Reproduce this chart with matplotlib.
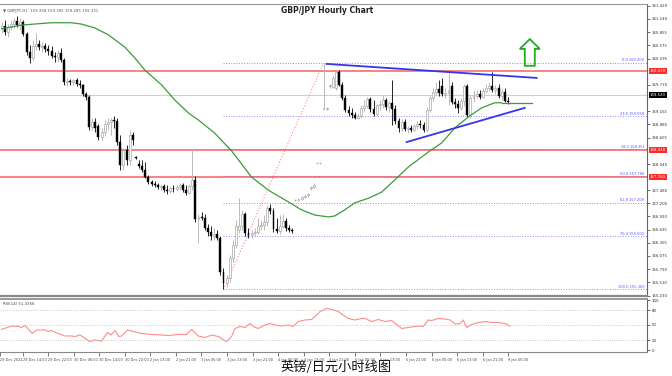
import numpy as np
import matplotlib
matplotlib.use("Agg")
import matplotlib.pyplot as plt
from matplotlib.patches import Polygon

# ---- hourly candles (GBP/JPY) ----
opens = [160.95, 160.99, 160.86, 160.97, 161.03, 161.10, 161.01, 161.08, 160.82, 160.44,
         160.31, 160.56, 160.61, 160.54, 160.56, 160.50, 160.46, 160.35, 160.33, 160.41,
         160.26, 159.79, 159.82, 159.79, 159.84, 159.75, 159.73, 159.54, 159.47, 158.83,
         158.94, 158.85, 158.62, 158.72, 158.90, 158.94, 158.98, 158.96, 158.51, 158.02,
         158.34, 158.13, 158.66, 158.19, 158.04, 158.00, 157.91, 157.76, 157.66, 157.61,
         157.59, 157.55, 157.57, 157.48, 157.46, 157.53, 157.51, 157.55, 157.59, 157.48,
         157.42, 157.57, 157.70, 156.86, 156.91, 156.89, 156.67, 156.59, 156.50, 156.54,
         156.46, 155.73, 155.50, 155.60, 156.03, 156.31, 156.63, 156.72, 156.97, 156.56,
         156.52, 156.56, 156.59, 156.72, 156.74, 156.80, 157.10, 157.04, 156.65, 156.61,
         156.72, 156.82, 156.67, 156.63, 157.27, 157.27, 157.29, 157.33, 157.38, 157.53,
         157.55, 158.06, 158.06, 159.22, 159.22, 159.71, 159.69, 159.67, 160.01, 159.73,
         159.45, 159.20, 159.13, 159.09, 159.02, 159.07, 159.24, 159.28, 159.43, 159.22,
         159.11, 159.30, 159.32, 159.41, 159.26, 159.35, 159.22, 158.96, 158.81, 158.94,
         158.79, 158.81, 158.77, 158.85, 158.90, 158.87, 158.77, 159.20, 159.45, 159.58,
         159.64, 159.71, 159.54, 159.56, 159.71, 159.37, 159.32, 159.24, 159.39, 159.71,
         159.09, 159.45, 159.50, 159.54, 159.47, 159.60, 159.67, 159.71, 159.62, 159.67,
         159.50, 159.58, 159.39]
highs = [161.08, 161.12, 161.03, 161.12, 161.16, 161.21, 161.16, 161.12, 160.86, 160.59,
         160.69, 160.84, 160.69, 160.65, 160.63, 160.59, 160.56, 160.44, 160.48, 160.52,
         160.31, 159.88, 159.86, 159.86, 159.88, 159.84, 159.75, 159.58, 159.52, 159.02,
         159.02, 158.90, 158.81, 158.98, 159.02, 159.02, 159.07, 159.02, 158.66, 158.38,
         158.45, 158.77, 158.72, 158.21, 158.13, 158.13, 158.08, 157.81, 157.70, 157.68,
         157.63, 157.61, 157.61, 157.59, 157.57, 157.59, 157.61, 157.63, 157.63, 157.59,
         157.61, 158.36, 157.78, 156.97, 157.01, 156.97, 156.76, 156.72, 156.67, 156.63,
         156.50, 155.82, 155.67, 156.09, 156.42, 156.84, 157.31, 157.06, 157.01, 156.67,
         156.63, 156.67, 156.89, 156.84, 156.95, 157.16, 157.19, 157.10, 156.89, 156.95,
         156.97, 156.89, 156.74, 156.67, 157.29, 157.31, 157.36, 157.40, 157.42, 157.57,
         157.63, 158.08, 158.08, 160.20, 159.26, 159.75, 159.92, 160.05, 160.05, 159.79,
         159.52, 159.28, 159.24, 159.15, 159.13, 159.30, 159.41, 159.47, 159.47, 159.41,
         159.32, 159.41, 159.52, 159.45, 159.39, 159.84, 159.30, 159.02, 159.00, 159.00,
         158.85, 158.87, 158.90, 158.96, 158.98, 158.94, 159.26, 159.50, 159.67, 159.79,
         159.84, 159.88, 159.67, 159.99, 159.79, 159.45, 159.41, 159.45, 159.75, 159.75,
         159.52, 159.62, 159.62, 159.62, 159.67, 159.75, 159.79, 160.01, 159.73, 159.75,
         159.67, 159.67, 159.47]
lows = [160.84, 160.80, 160.76, 160.91, 160.95, 160.97, 160.91, 160.78, 160.37, 160.20,
        160.26, 160.48, 160.48, 160.44, 160.44, 160.37, 160.31, 160.22, 160.22, 160.22,
        159.73, 159.71, 159.73, 159.73, 159.71, 159.67, 159.50, 159.41, 158.77, 158.77,
        158.72, 158.55, 158.55, 158.64, 158.77, 158.66, 158.81, 158.45, 157.91, 157.91,
        158.02, 158.02, 158.45, 158.15, 157.95, 157.87, 157.74, 157.61, 157.57, 157.55,
        157.51, 157.48, 157.44, 157.40, 157.42, 157.44, 157.46, 157.48, 157.44, 157.38,
        157.40, 157.48, 156.80, 156.35, 156.84, 156.63, 156.50, 156.42, 156.42, 156.42,
        155.67, 155.36, 155.41, 155.52, 155.94, 156.24, 156.56, 156.63, 156.50, 156.46,
        156.46, 156.50, 156.54, 156.63, 156.63, 156.72, 156.97, 156.59, 156.56, 156.54,
        156.67, 156.61, 156.59, 156.56, 157.25, 157.25, 157.27, 157.31, 157.33, 157.48,
        157.53, 158.04, 158.04, 159.20, 159.20, 159.67, 159.67, 159.62, 159.71, 159.41,
        159.15, 159.07, 159.02, 159.00, 159.00, 159.02, 159.15, 159.24, 159.15, 159.07,
        159.07, 159.20, 159.24, 159.20, 159.15, 158.87, 158.90, 158.72, 158.75, 158.75,
        158.70, 158.72, 158.75, 158.79, 158.81, 158.72, 158.72, 159.15, 159.39, 159.52,
        159.50, 159.50, 159.45, 159.30, 159.32, 159.24, 159.13, 159.20, 159.28, 159.05,
        159.02, 159.37, 159.45, 159.43, 159.45, 159.56, 159.60, 159.58, 159.54, 159.45,
        159.41, 159.37, 159.32]
closes = [160.99, 160.86, 160.97, 161.03, 161.10, 161.01, 161.08, 160.82, 160.44, 160.31,
          160.56, 160.61, 160.54, 160.56, 160.50, 160.46, 160.35, 160.33, 160.41, 160.26,
          159.79, 159.82, 159.79, 159.84, 159.75, 159.73, 159.54, 159.47, 158.83, 158.94,
          158.81, 158.62, 158.72, 158.90, 158.94, 158.98, 158.96, 158.51, 158.02, 158.34,
          158.13, 158.66, 158.55, 158.17, 158.00, 157.91, 157.76, 157.66, 157.61, 157.59,
          157.55, 157.57, 157.48, 157.46, 157.53, 157.51, 157.55, 157.59, 157.48, 157.42,
          157.57, 157.70, 156.86, 156.91, 156.89, 156.67, 156.59, 156.50, 156.54, 156.46,
          155.73, 155.50, 155.60, 156.03, 156.31, 156.72, 156.72, 156.97, 156.56, 156.52,
          156.56, 156.59, 156.72, 156.74, 156.80, 157.10, 157.04, 156.65, 156.61, 156.72,
          156.82, 156.67, 156.63, 156.61, 157.27, 157.29, 157.33, 157.36, 157.40, 157.55,
          157.59, 158.06, 158.06, 159.22, 159.24, 159.71, 159.88, 160.01, 159.73, 159.45,
          159.20, 159.13, 159.09, 159.02, 159.07, 159.24, 159.28, 159.43, 159.22, 159.11,
          159.30, 159.32, 159.41, 159.26, 159.35, 159.22, 158.96, 158.81, 158.94, 158.79,
          158.81, 158.77, 158.85, 158.90, 158.87, 158.77, 159.20, 159.45, 159.58, 159.64,
          159.56, 159.54, 159.56, 159.62, 159.37, 159.32, 159.24, 159.39, 159.71, 159.09,
          159.45, 159.50, 159.54, 159.47, 159.60, 159.67, 159.71, 159.62, 159.67, 159.50,
          159.58, 159.39, 159.37]

# moving average (green), sampled points: bar index / price
ma_bars = [0, 6.4, 16, 22.4, 25.6, 29.8, 34.2, 39.4, 42.6, 45.8, 51.2, 55.4, 59.8, 63,
           68.2, 73.6, 80, 85.4, 91.8, 96, 100.2, 104.6, 106.6, 109.8, 113, 117.4, 121.6,
           125.8, 130.2, 136.6, 140.8, 145, 149.4, 153.6, 157.8, 160]
ma_vals = [160.93, 161.01, 161.06, 161.06, 161.03, 160.95, 160.80, 160.54, 160.31, 160.05,
           159.73, 159.41, 159.13, 158.98, 158.70, 158.32, 157.76, 157.48, 157.23, 157.06,
           156.95, 156.91, 156.93, 157.06, 157.21, 157.31, 157.44, 157.70, 157.98, 158.30,
           158.49, 158.81, 159.05, 159.24, 159.35, 159.35]
ma_flat_end = 169.6

# RSI(14) sub panel
rsi_bars = [0, 3.2, 5.3, 6.4, 7.5, 9.8, 11.2, 13.9, 14.9, 16, 18.1, 20.3, 22.4, 23.5, 25.1,
            26.7, 28.3, 29.9, 32, 33.9, 35, 36.3, 37.5, 38.4, 40.3, 42.1, 44.8, 48, 51.2,
            53.3, 56.5, 59.2, 60.8, 62.9, 65.1, 67.2, 69.3, 71.3, 72, 73.6, 74.7, 76.3, 77.9,
            79.5, 80.5, 82.1, 84.3, 85.9, 87.5, 89.6, 91.7, 93.3, 94.9, 97.1, 99.2, 100.3,
            101.9, 104, 105.6, 107.7, 110.9, 113.1, 115.2, 116.3, 118.4, 120.5, 122.7, 124.8,
            128, 130.1, 133.3, 134.9, 136.5, 137.6, 139.7, 141.9, 143.5, 145.1, 146.7, 147.7,
            148.8, 150.4, 152.5, 154.7, 156.8, 158.9, 161.1, 162.7]
rsi_vals = [41, 48, 47, 45, 49, 33, 40, 40, 37, 39, 33, 28, 28, 27, 30, 23, 17, 20, 18, 35,
            30, 39, 27, 28, 40, 37, 33, 31, 30, 29, 31, 31, 41, 28, 25, 30, 27, 19, 17, 27,
            43, 47, 45, 53, 47, 43, 50, 53, 50, 48, 50, 47, 57, 60, 61, 67, 77, 83, 81, 77,
            63, 60, 63, 63, 57, 61, 57, 59, 43, 45, 48, 47, 60, 59, 63, 62, 60, 52, 53, 60,
            45, 51, 55, 57, 55, 55, 53, 48]

# levels and drawn objects
red_levels = [160.03, 158.34, 157.76]
last_price = 159.52
fib_ratios = [0.0, 23.6, 38.2, 50.0, 61.8, 76.4, 100.0]
upper_line = ([104, 171.2], [160.18, 159.88])
lower_line = ([129.6, 167.4], [158.51, 159.24])
arrow_x = [169.0, 172.2, 170.6, 170.6, 167.4, 167.4, 165.8]
arrow_y = [160.71, 160.50, 160.50, 160.14, 160.14, 160.50, 160.50]

price_ticks = [161.420, 161.140, 160.855, 160.575, 160.295, 160.010, 159.730, 159.445,
               159.165, 158.885, 158.605, 158.320, 158.040, 157.760, 157.480, 157.200,
               156.920, 156.635, 156.355, 156.075, 155.790, 155.510, 155.230]
date_labels = ["29 Dec 2022", "29 Dec 14:00", "29 Dec 22:00", "30 Dec 06:00", "30 Dec 14:00",
               "30 Dec 22:00", "2 Jan 13:00", "2 Jan 21:00", "3 Jan 05:00", "3 Jan 13:00",
               "3 Jan 21:00", "4 Jan 05:00", "4 Jan 13:00", "4 Jan 21:00", "5 Jan 05:00",
               "5 Jan 13:00", "5 Jan 21:00", "6 Jan 05:00", "6 Jan 13:00", "6 Jan 21:00",
               "9 Jan 05:00"]
date_pos = [-0.4] + [6.7 + 8.18 * k for k in range(20)]

W, H = 672, 376
fig = plt.figure(figsize=(W / 100, H / 100), dpi=100)
fig.patch.set_facecolor("white")
ax = fig.add_axes([0, 80 / H, 647 / W, 292 / H])
rax = fig.add_axes([0, 24 / H, 647 / W, 53 / H])

XMAX = 206.5
n = len(closes)
x = np.arange(n)
o = np.array(opens); c = np.array(closes); hi = np.array(highs); lo = np.array(lows)
up = c >= o

# wicks
ax.vlines(x[up], lo[up], hi[up], color="#b0b0b0", lw=0.6, zorder=3)
ax.vlines(x[~up], lo[~up], hi[~up], color="#000000", lw=0.6, zorder=3)
# bodies
body = np.maximum(np.abs(c - o), 0.012)
ax.bar(x[up], body[up], bottom=np.minimum(o, c)[up], width=0.62, color="white",
       edgecolor="#a8a8a8", lw=0.5, zorder=4)
ax.bar(x[~up], body[~up], bottom=np.minimum(o, c)[~up], width=0.62, color="black",
       edgecolor="black", lw=0.3, zorder=4)

# current price line
ax.axhline(last_price, color="#cfcfcf", lw=0.8, zorder=1)

# fibonacci
i_lo = int(np.argmin(lo)); i_hi = int(np.argmax(hi[i_lo:])) + i_lo
f_hi, f_lo = hi[i_hi], lo[i_lo]
ax.plot([i_lo, i_hi], [f_lo, f_hi], color="#ff8a8a", ls=":", lw=0.8, zorder=2)
for r in fib_ratios:
    lvl = f_hi - r / 100 * (f_hi - f_lo)
    ax.plot([i_lo, XMAX], [lvl, lvl], color="#8c8cff", ls=":", lw=0.7, zorder=2)
    ax.text(XMAX - 0.8, lvl + 0.01, f"{r:.1f} {lvl:.3f}", color="#5a5aff", fontsize=2.6,
            ha="right", va="bottom", zorder=6)

for lvl in red_levels:
    ax.axhline(lvl, color="#f04848", lw=1.1, alpha=0.85, zorder=2)

# moving average
ax.plot(ma_bars, ma_vals, color="#3d9a3d", lw=0.9, zorder=5)
ax.plot([ma_bars[-1], ma_flat_end], [ma_vals[-1], ma_vals[-1]], color="#3d9a3d", lw=0.9, zorder=5)

# trend lines
ax.plot(*upper_line, color="#3535ee", lw=1.3, zorder=5)
ax.plot(*lower_line, color="#3535ee", lw=1.3, zorder=5)

# arrow
ax.add_patch(Polygon(list(zip(arrow_x, arrow_y)), closed=True, fill=False,
                     edgecolor="#22aa22", lw=1.3, zorder=6))

# price axis: boxes take the place of nearby ticks
boxed = red_levels + [last_price]
shown_ticks = [t for t in price_ticks if min(abs(t - b) for b in boxed) > 0.09]

ax.set_xlim(-0.5, XMAX)
ax.set_ylim(155.22, 161.46)
ax.yaxis.tick_right()
ax.set_yticks(shown_ticks)
ax.set_yticklabels([f"{v:.3f}" for v in shown_ticks])
ax.tick_params(axis="y", labelsize=2.8, length=2, width=0.5, colors="#333333", pad=1.5)
ax.set_xticks([])
ax.spines["left"].set_visible(False)
ax.spines["top"].set_color("#9a9a9a")
ax.spines["right"].set_color("#666666")
ax.spines["bottom"].set_color("#888888")
ax.spines["bottom"].set_linewidth(1.6)

for lvl in red_levels:
    ax.text(1.004, lvl, f"{lvl:.3f}", transform=ax.get_yaxis_transform(), fontsize=2.8,
            color="white", va="center", ha="left",
            bbox=dict(boxstyle="square,pad=0.25", fc="#ff2a2a", ec="none"), zorder=7)
ax.text(1.004, last_price, f"{last_price:.3f}", transform=ax.get_yaxis_transform(),
        fontsize=2.8, color="white", va="center", ha="left",
        bbox=dict(boxstyle="square,pad=0.25", fc="black", ec="none"), zorder=7)

ax.text(0.505, 0.978, "GBP/JPY Hourly Chart", transform=ax.transAxes, ha="center",
        va="center", fontsize=5.5, fontweight="bold", color="#222222")
ax.text(0.004, 0.975, "\u25bc GBPJPY,H1  159.394 159.395 159.285 159.331",
        transform=ax.transAxes, ha="left", va="center", fontsize=2.8, color="#555555")

# RSI panel
rax.plot(rsi_bars, rsi_vals, color="#ff8c8c", lw=0.8)
for lvl in [80, 50, 20]:
    rax.axhline(lvl, color="#bdbdbd", ls=":", lw=0.6)
rax.set_xlim(-0.5, XMAX)
rax.set_ylim(-4, 102)
rax.yaxis.tick_right()
rax.set_yticks([100, 80, 50, 20, 0])
rax.tick_params(axis="y", labelsize=2.8, length=2, width=0.5, colors="#333333", pad=1.5)
rax.set_xticks(date_pos)
rax.set_xticklabels(date_labels, ha="left")
rax.tick_params(axis="x", labelsize=2.5, length=3, width=0.5, colors="#444444", pad=1)
rax.spines["left"].set_visible(False)
rax.spines["top"].set_color("#888888")
rax.spines["top"].set_linewidth(1.2)
rax.spines["right"].set_color("#666666")
rax.spines["bottom"].set_color("#888888")
rax.text(0.004, 0.9, "RSI(14) 51.3356", transform=rax.transAxes, fontsize=2.8,
         color="#444444", va="center")

fig.text(0.5, 1 - 367 / H, "英镑/日元小时线图", ha="center", va="center", fontsize=9.5,
         family=["Noto Sans CJK SC", "DejaVu Sans"], color="#111111")

fig.savefig("out.png", dpi=100, facecolor="white")
